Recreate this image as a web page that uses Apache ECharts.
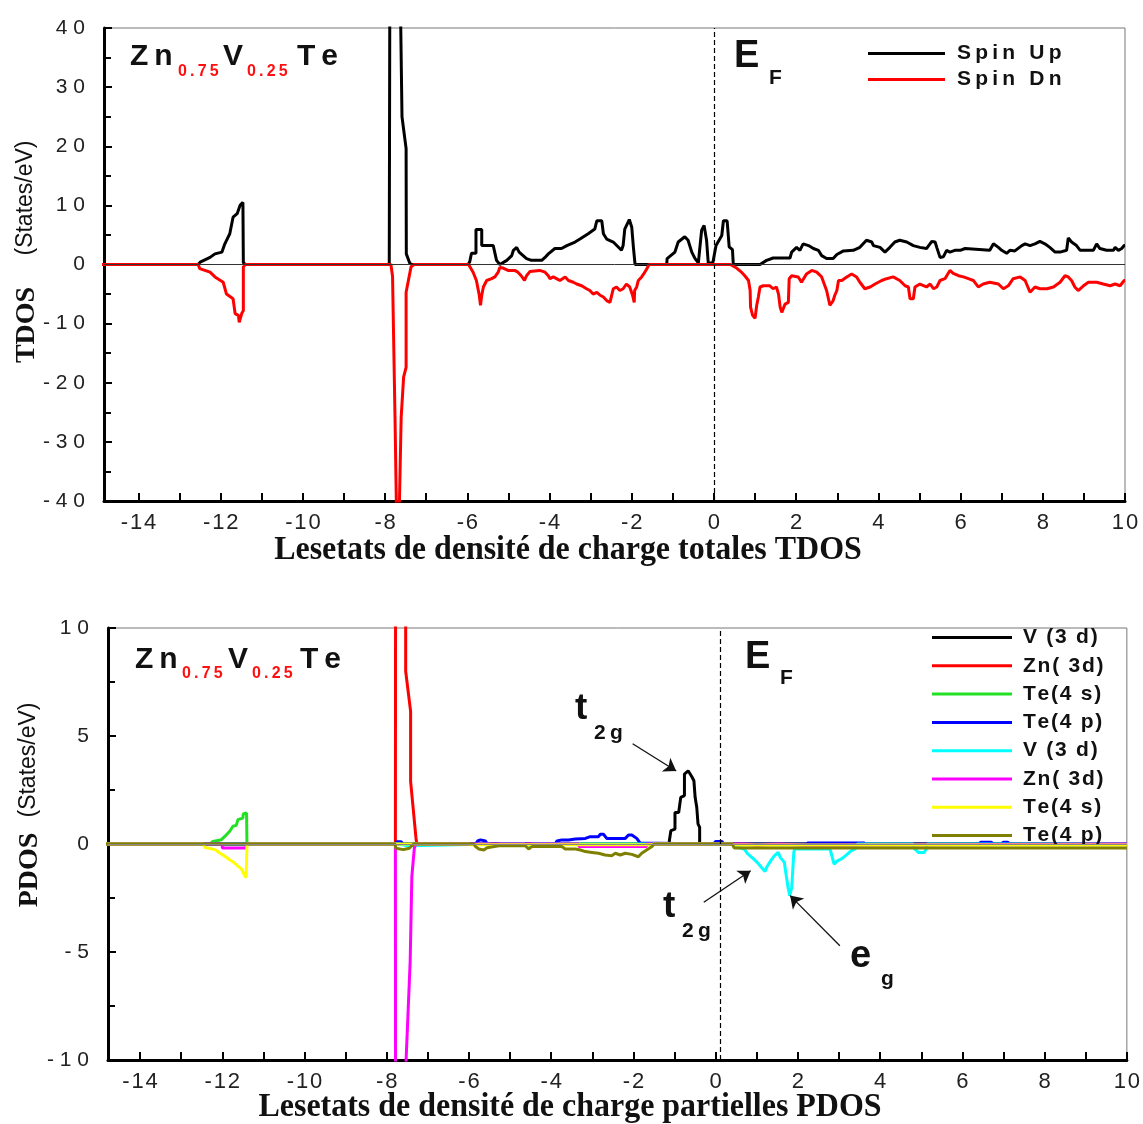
<!DOCTYPE html>
<html>
<head>
<meta charset="utf-8">
<script src="https://cdn.jsdelivr.net/npm/echarts@6/dist/echarts.min.js"></script>
<style>
  html, body { margin: 0; padding: 0; background: #fff; }
  #chart { width: 1143px; height: 1124px; }
</style>
</head>
<body>
<div id="chart"></div>
<script>
// ---- Axis ticks -------------------------------------------------------
const energyTicks = [-14,-13,-12,-11,-10,-9,-8,-7,-6,-5,-4,-3,-2,-1,0,1,2,3,4,5,6,7,8,9,10];
const energyLabels = [-14,-12,-10,-8,-6,-4,-2,0,2,4,6,8,10];

// ---- Total DOS (States/eV) : [energy eV, DOS] ---------------------------
const spinUp = [
  [-15,0],[-12.55,0],[-12.5,0.4],[-12.26,1.2],[-12.14,1.8],[-11.97,2.1],[-11.9,3.5],[-11.78,5.2],[-11.7,8],[-11.6,8.6],[-11.53,10],[-11.46,10.5],[-11.45,0.3],[-11.4,0],
  [-7.9,0],[-7.885,50],[-7.645,50],[-7.62,40],[-7.59,25],[-7.49,19.6],[-7.485,1.8],[-7.40,0.2],[-7.35,0],
  [-5.98,0],[-5.94,0.5],[-5.9,1.9],[-5.79,1.9],[-5.79,5.9],[-5.65,5.9],[-5.65,3.2],[-5.37,3.2],[-5.29,0.7],[-5.21,0],[-5.17,0.3],[-5.04,0.7],[-4.92,1.5],[-4.88,2.4],[-4.80,2.9],[-4.74,2.1],[-4.56,1.0],[-4.44,0.7],[-4.19,0.7],[-4.11,1.2],[-4.03,1.8],[-3.87,2.7],[-3.71,2.7],[-3.58,3.2],[-3.38,3.8],[-3.26,4.3],[-3.06,5.2],[-2.90,6.0],[-2.85,7.4],[-2.73,7.4],[-2.69,5.2],[-2.61,4.3],[-2.45,3.8],[-2.25,2.4],[-2.21,3.2],[-2.17,6.0],[-2.06,7.6],[-2.0,6.3],[-1.96,2.9],[-1.92,0],
  [-1.15,0],[-1.14,1.0],[-0.95,2.1],[-0.87,3.8],[-0.71,4.7],[-0.63,4.1],[-0.54,2.1],[-0.46,1.0],[-0.38,0.3],[-0.30,5.8],[-0.24,6.6],[-0.18,4.1],[-0.14,0.3],[-0.03,0.2],[0.05,3.2],[0.19,4.9],[0.23,7.4],[0.32,7.4],[0.37,3.0],[0.45,2.5],[0.47,0],
  [1.12,0],[1.28,0.7],[1.44,1.1],[1.85,1.1],[1.89,2.1],[2.01,2.9],[2.09,2.4],[2.17,3.5],[2.30,3.2],[2.42,2.7],[2.54,2.4],[2.62,1.5],[2.74,1.0],[2.90,1.0],[2.99,1.7],[3.15,2.3],[3.39,2.4],[3.55,2.9],[3.71,4.1],[3.84,3.8],[3.88,3.2],[4.04,2.9],[4.16,2.1],[4.28,2.9],[4.40,3.8],[4.52,4.1],[4.69,3.8],[4.85,3.2],[5.01,2.9],[5.17,2.7],[5.30,3.9],[5.38,3.8],[5.42,2.9],[5.50,1.2],[5.58,1.3],[5.66,2.4],[5.74,2.1],[5.86,2.4],[5.99,2.4],[6.11,2.7],[6.15,2.4],[6.71,2.4],[6.80,3.5],[6.92,2.9],[7.00,2.4],[7.12,1.9],[7.20,2.4],[7.32,2.3],[7.49,3.2],[7.57,3.5],[7.69,3.2],[7.81,3.5],[7.93,3.9],[8.05,3.5],[8.17,2.9],[8.30,2.1],[8.42,2.1],[8.58,2.4],[8.62,4.5],[8.70,3.8],[8.82,3.2],[8.91,2.4],[9.23,2.4],[9.31,3.5],[9.39,2.7],[9.55,2.4],[9.72,2.4],[9.76,2.9],[9.84,2.4],[9.92,2.7],[9.98,3.2],[10,3.2]
];
const spinDn = [
  [-15,0],[-12.55,0],[-12.51,-0.7],[-12.26,-1.3],[-12.14,-2.1],[-11.94,-3.0],[-11.86,-5.0],[-11.70,-5.8],[-11.65,-8.3],[-11.57,-8.6],[-11.55,-9.8],[-11.49,-8.3],[-11.45,-7.8],[-11.45,-0.4],[-11.4,0],
  [-7.86,0],[-7.82,-2],[-7.76,-25.8],[-7.73,-39.4],[-7.70,-52],[-7.67,-52],[-7.65,-39.4],[-7.61,-25.8],[-7.55,-19],[-7.49,-17.4],[-7.49,-4.7],[-7.37,-0.4],[-7.3,0],
  [-5.97,0],[-5.94,-0.3],[-5.86,-1.3],[-5.78,-2.7],[-5.71,-5.2],[-5.68,-6.9],[-5.65,-5.2],[-5.61,-3.8],[-5.53,-2.7],[-5.41,-2.4],[-5.33,-2.1],[-5.25,-1.3],[-5.21,-0.5],[-5.13,-0.6],[-5.01,-1.0],[-4.85,-1.0],[-4.77,-1.3],[-4.69,-1.9],[-4.61,-2.7],[-4.56,-1.9],[-4.48,-1.2],[-4.24,-1.0],[-4.11,-1.3],[-4.03,-1.9],[-3.99,-2.4],[-3.91,-2.1],[-3.83,-2.4],[-3.75,-2.7],[-3.62,-2.1],[-3.54,-2.7],[-3.42,-3.0],[-3.34,-3.3],[-3.22,-3.6],[-3.10,-4.1],[-3.02,-4.4],[-2.94,-5.0],[-2.85,-4.7],[-2.77,-5.2],[-2.69,-5.5],[-2.61,-6.1],[-2.53,-6.4],[-2.45,-4.1],[-2.37,-3.8],[-2.29,-4.4],[-2.21,-4.1],[-2.13,-3.3],[-2.05,-3.8],[-1.98,-5.2],[-1.94,-6.4],[-1.93,-4.4],[-1.88,-3.8],[-1.84,-2.7],[-1.76,-2.1],[-1.71,-1.6],[-1.64,-0.8],[-1.58,0],
  [0.40,0],[0.43,-0.1],[0.55,-0.6],[0.67,-1.3],[0.75,-1.9],[0.84,-2.7],[0.88,-4.4],[0.89,-7.2],[0.94,-8.6],[1.0,-9.1],[1.04,-6.9],[1.08,-5.5],[1.12,-3.8],[1.2,-3.6],[1.36,-3.6],[1.44,-4.1],[1.52,-3.8],[1.57,-5.0],[1.61,-7.2],[1.65,-8.1],[1.73,-6.7],[1.81,-6.4],[1.83,-2.4],[1.89,-1.9],[2.05,-2.1],[2.13,-3.0],[2.25,-1.6],[2.38,-1.0],[2.50,-1.3],[2.62,-2.1],[2.74,-4.4],[2.82,-6.9],[2.90,-6.1],[2.94,-5.2],[2.99,-4.4],[3.03,-2.7],[3.11,-2.7],[3.23,-2.1],[3.35,-1.6],[3.47,-2.1],[3.55,-3.0],[3.67,-4.1],[3.80,-3.8],[3.92,-3.3],[4.08,-2.7],[4.20,-2.4],[4.36,-2.1],[4.52,-2.7],[4.65,-3.6],[4.73,-3.8],[4.77,-5.8],[4.85,-5.8],[4.89,-3.8],[5.01,-3.3],[5.17,-3.8],[5.26,-3.3],[5.34,-4.1],[5.42,-3.8],[5.50,-2.7],[5.62,-2.4],[5.74,-1.0],[5.82,-1.5],[5.95,-1.9],[6.07,-2.1],[6.19,-2.4],[6.31,-2.7],[6.43,-3.8],[6.55,-3.3],[6.71,-3.0],[6.92,-3.3],[7.04,-4.1],[7.16,-3.6],[7.28,-2.4],[7.45,-2.1],[7.57,-2.7],[7.69,-4.7],[7.81,-3.8],[7.93,-4.1],[8.10,-4.1],[8.26,-3.8],[8.42,-3.0],[8.54,-1.9],[8.62,-2.1],[8.70,-2.7],[8.78,-3.8],[8.86,-4.4],[8.99,-3.6],[9.11,-3.0],[9.31,-3.0],[9.47,-3.3],[9.64,-3.6],[9.76,-3.3],[9.88,-3.6],[9.98,-2.7],[10,-2.7]
];

// ---- Partial DOS (States/eV), spin up (positive) -----------------------
const v3dUp = [[-15,0],[-1.14,0],[-1.13,0.1],[-1.09,0.62],[-0.99,0.69],[-0.99,1.46],[-0.90,1.46],[-0.85,2.16],[-0.76,2.24],[-0.76,3.24],[-0.67,3.39],[-0.62,3.24],[-0.57,3.08],[-0.53,2.93],[-0.50,2.16],[-0.46,1.69],[-0.43,0.93],[-0.39,0.77],[-0.39,0],[10,0]];
const zn3dUp = [[-15,0],[-7.79,0],[-7.785,14],[-7.54,14],[-7.54,8.0],[-7.42,6.14],[-7.42,2.9],[-7.29,0.28],[-7.27,0],[10,0]];
const te4sUp = [[-15,0],[-12.3,0],[-12.23,0.12],[-12.02,0.2],[-11.94,0.35],[-11.82,0.59],[-11.74,0.82],[-11.66,0.86],[-11.62,1.13],[-11.50,1.2],[-11.49,1.39],[-11.41,1.44],[-11.40,0],[10,0]];
const te4pUp = [[-15,0],[-7.8,0],[-7.75,0.1],[-7.65,0.1],[-7.6,0],[-5.84,0],[-5.79,0.14],[-5.72,0.19],[-5.6,0.14],[-5.55,0],[-3.9,0],[-3.86,0.14],[-3.74,0.19],[-3.58,0.19],[-3.41,0.23],[-3.17,0.26],[-3.05,0.34],[-2.85,0.34],[-2.81,0.45],[-2.73,0.45],[-2.65,0.26],[-2.20,0.26],[-2.12,0.42],[-2.04,0.42],[-1.92,0.26],[-1.84,0.05],[-1.8,0],[-0.05,0],[0.0,0.12],[0.15,0.12],[0.2,0],[2.2,0],[2.25,0.05],[3.6,0.05],[3.65,0],[6.4,0],[6.45,0.08],[6.7,0.08],[6.75,0],[6.95,0],[7.0,0.08],[7.1,0.08],[7.15,0],[10,0]];

// ---- Partial DOS (States/eV), spin down (negative) ---------------------
const v3dDn = [[-15,0],[-7.7,0],[-7.68,-0.08],[-7.5,-0.08],[-7.48,0],[-5.5,0],[-5.45,-0.06],[-5.3,-0.06],[-5.25,0],[-4.65,0],[-4.6,-0.06],[-4.5,-0.06],[-4.45,0],[0.40,0],[0.45,-0.08],[0.55,-0.16],[0.69,-0.23],[0.78,-0.46],[0.92,-0.69],[1.01,-0.85],[1.11,-1.08],[1.20,-1.27],[1.24,-1.08],[1.34,-0.77],[1.43,-0.54],[1.52,-0.39],[1.57,-0.62],[1.67,-0.85],[1.71,-1.39],[1.76,-2.01],[1.80,-2.39],[1.85,-2.01],[1.90,-0.39],[1.92,-0.23],[2.78,-0.23],[2.88,-0.93],[2.97,-0.77],[3.06,-0.69],[3.16,-0.54],[3.30,-0.31],[3.39,-0.23],[3.45,0],[4.8,0],[4.84,-0.23],[4.93,-0.39],[5.07,-0.39],[5.12,-0.23],[5.15,0],[10,0]];
const zn3dDn = [[-15,0],[-12.0,0],[-12.0,-0.19],[-11.42,-0.19],[-11.42,0],[-7.79,0],[-7.785,-14],[-7.56,-14],[-7.53,-10],[-7.43,-5.4],[-7.39,-1.5],[-7.33,-0.2],[-7.3,0],[-3.33,0],[-3.33,-0.12],[-1.68,-0.12],[-1.68,0],[0.7,0],[0.7,-0.06],[1.0,-0.06],[1.0,0],[1.5,0],[1.5,-0.06],[2.2,-0.06],[2.2,0],[10,0]];
const te4sDn = [[-15,0],[-12.45,0],[-12.43,-0.15],[-12.18,-0.26],[-12.06,-0.42],[-11.94,-0.57],[-11.82,-0.73],[-11.70,-0.88],[-11.62,-1.03],[-11.54,-1.14],[-11.46,-1.45],[-11.42,-1.55],[-11.40,0],[-6.0,0],[-5.95,-0.04],[-1.55,-0.04],[-1.5,0],[0.4,0],[0.45,-0.05],[10,-0.05]];
const te4pDn = [[-15,0],[-7.8,0],[-7.78,-0.2],[-7.6,-0.26],[-7.45,-0.2],[-7.35,0],[-5.88,0],[-5.84,-0.12],[-5.76,-0.23],[-5.64,-0.28],[-5.56,-0.17],[-5.27,-0.08],[-4.63,-0.08],[-4.55,-0.23],[-4.47,-0.12],[-3.74,-0.12],[-3.66,-0.23],[-3.41,-0.23],[-3.29,-0.28],[-3.17,-0.35],[-3.01,-0.39],[-2.85,-0.43],[-2.69,-0.51],[-2.53,-0.54],[-2.44,-0.43],[-2.32,-0.51],[-2.2,-0.43],[-2.04,-0.48],[-1.88,-0.59],[-1.80,-0.43],[-1.68,-0.28],[-1.55,-0.12],[-1.5,0],[0.4,0],[0.45,-0.18],[10,-0.18]];

// ---- Styling helpers ---------------------------------------------------
const SANS = "'Liberation Sans', Arial, sans-serif";
const SERIF = "'Liberation Serif', 'Times New Roman', serif";
const spaced = s => String(s).split('').join('\u2009');
const hair = s => String(s).split('').join('\u200A');
const wide = s => String(s).split('').join(' ');

function xAxisFor(gridIndex, min) {
  return {
    gridIndex, type: 'value', min, max: 10,
    axisLine: { onZero: false, lineStyle: { color: '#000', width: 3 } },
    axisTick: { inside: true, length: 8, lineStyle: { color: '#000', width: 2 }, customValues: energyTicks },
    axisLabel: { customValues: energyLabels, formatter: v => hair(v), fontFamily: SANS, fontSize: 22, color: '#222', margin: 11 },
    splitLine: { show: false }
  };
}
function yAxisFor(gridIndex, min, max, interval) {
  return {
    gridIndex, type: 'value', min, max, interval,
    axisLine: { show: true, onZero: false, lineStyle: { color: '#000', width: 3 } },
    axisTick: { inside: true, length: 8, lineStyle: { color: '#000', width: 2 } },
    minorTick: { show: true, splitNumber: 2, length: 7, lineStyle: { color: '#000', width: 2 } },
    axisLabel: { formatter: v => wide(v), fontFamily: SANS, fontSize: 21, color: '#222', margin: 19 },
    splitLine: { show: false }
  };
}
function curve(name, data, color, xi, extra) {
  return Object.assign({
    name, type: 'line', data, xAxisIndex: xi, yAxisIndex: xi,
    showSymbol: false, symbol: 'none', clip: true, animation: false, silent: true,
    lineStyle: { color, width: 3 }, itemStyle: { color }
  }, extra || {});
}
const arrow = (from, to) => [{ coord: from }, { coord: to }];

const chart = echarts.init(document.getElementById('chart'), null, { renderer: 'canvas' });

const option = {
  backgroundColor: '#fff',
  animation: false,
  grid: [
    { left: 104, top: 28, width: 1021, height: 473, show: true, borderColor: '#777', borderWidth: 1 },
    { left: 108, top: 628, width: 1022, height: 432, show: true, borderColor: '#777', borderWidth: 1 }
  ],
  xAxis: [xAxisFor(0, -14.84), xAxisFor(1, -14.78)],
  yAxis: [yAxisFor(0, -40, 40, 10), yAxisFor(1, -10, 10, 5)],
  legend: [
    {
      data: ['Spin Up', 'Spin Dn'], orient: 'vertical', left: 868, top: 43, padding: 0,
      icon: 'rect', itemWidth: 77, itemHeight: 3, itemGap: 5, selectedMode: false,
      formatter: n => spaced(n),
      textStyle: { fontFamily: SANS, fontWeight: 'bold', fontSize: 21, color: '#111', padding: [0, 0, 0, 7] }
    },
    {
      data: ['V (3 d)|up', 'Zn( 3d)|up', 'Te(4 s)|up', 'Te(4 p)|up', 'V (3 d)|dn', 'Zn( 3d)|dn', 'Te(4 s)|dn', 'Te(4 p)|dn'],
      orient: 'vertical', left: 932, top: 627, padding: 0,
      icon: 'rect', itemWidth: 80, itemHeight: 3, itemGap: 7.3, selectedMode: false,
      formatter: n => hair(n.split('|')[0]),
      textStyle: { fontFamily: SANS, fontWeight: 'bold', fontSize: 21, color: '#111', padding: [0, 0, 0, 6] }
    }
  ],
  series: [
    curve('Spin Up', spinUp, '#000', 0, {
      markLine: {
        silent: true, symbol: 'none', label: { show: false }, animation: false,
        data: [
          { xAxis: 0, lineStyle: { type: [5, 3], color: '#000', width: 1.2 } },
          { yAxis: 0, lineStyle: { type: 'solid', color: '#333', width: 1 } }
        ]
      }
    }),
    curve('Spin Dn', spinDn, '#ff0000', 0),

    curve('V (3 d)|up', v3dUp, '#000', 1, {
      markLine: {
        silent: true, symbol: 'none', label: { show: false }, animation: false,
        data: [
          { xAxis: 0.11, lineStyle: { type: [5, 3], color: '#000', width: 1.2 } },
          { yAxis: 0, lineStyle: { type: 'solid', color: '#888', width: 1 } }
        ]
      }
    }),
    curve('Zn( 3d)|up', zn3dUp, '#ff0000', 1),
    curve('Te(4 s)|up', te4sUp, '#22e022', 1),
    curve('Te(4 p)|up', te4pUp, '#0000ff', 1),
    curve('V (3 d)|dn', v3dDn, '#00ffff', 1, {
      markLine: {
        silent: true, symbol: ['none', 'arrow'], symbolSize: 12, label: { show: false }, animation: false,
        lineStyle: { type: 'solid', color: '#111', width: 1.3 },
        itemStyle: { color: '#111' },
        emphasis: { disabled: true },
        data: [
          arrow([-2.02, 4.64], [-0.96, 3.38]),
          arrow([-0.29, -2.70], [0.85, -1.24]),
          arrow([3.02, -4.71], [1.81, -2.39])
        ]
      }
    }),
    curve('Zn( 3d)|dn', zn3dDn, '#ff00ff', 1),
    curve('Te(4 s)|dn', te4sDn, '#ffff00', 1),
    curve('Te(4 p)|dn', te4pDn, '#808000', 1)
  ],
  graphic: []
};

// Compound labels, Fermi level tags, orbital labels and axis titles
const T = (text, x, y, size, fill) => ({
  type: 'text', x, y, silent: true,
  style: { text, font: `bold ${size}px ${SANS}`, fill: fill || '#111', align: 'left', verticalAlign: 'middle' }
});

function formula(yMain, ySub, xs) {
  return [
    T(spaced('Zn'), xs[0], yMain, 30),
    T(spaced('0.75'), xs[1], ySub, 16, '#ff1010'),
    T('V', xs[2], yMain, 30),
    T(spaced('0.25'), xs[3], ySub, 16, '#ff1010'),
    T(spaced('Te'), xs[4], yMain, 30)
  ];
}

option.graphic = [].concat(
  formula(57, 72, [130, 178, 223, 247, 297]),
  formula(660, 674, [135, 182, 228, 252, 300]),
  [
    T('E', 734, 57, 38),
    T('F', 769, 78, 21),
    T('E', 745, 658, 38),
    T('F', 780, 678, 21),
    T('t', 575, 709, 37),
    T(spaced('2g'), 594, 733, 21),
    T('t', 663, 907, 37),
    T(spaced('2g'), 682, 931, 21),
    T('e', 850, 957, 38),
    T('g', 881, 979, 21),
    // vertical axis titles
    { type: 'text', x: 27, y: 325, rotation: Math.PI / 2, silent: true,
      style: { text: 'TDOS', font: `bold 28px ${SERIF}`, fill: '#111', align: 'center', verticalAlign: 'middle' } },
    { type: 'text', x: 26, y: 198, rotation: Math.PI / 2, silent: true,
      style: { text: '(States/eV)', font: `23px ${SANS}`, fill: '#111', align: 'center', verticalAlign: 'middle' } },
    { type: 'text', x: 30, y: 870, rotation: Math.PI / 2, silent: true,
      style: { text: 'PDOS', font: `bold 28px ${SERIF}`, fill: '#111', align: 'center', verticalAlign: 'middle' } },
    { type: 'text', x: 29, y: 760, rotation: Math.PI / 2, silent: true,
      style: { text: '(States/eV)', font: `23px ${SANS}`, fill: '#111', align: 'center', verticalAlign: 'middle' } },
    // energy axis titles
    { type: 'text', x: 568, y: 550, scaleX: 0.94, silent: true,
      style: { text: 'Lesetats de densité de charge totales TDOS', font: `bold 34px ${SERIF}`, fill: '#111', align: 'center', verticalAlign: 'middle' } },
    { type: 'text', x: 570, y: 1107, scaleX: 0.94, silent: true,
      style: { text: 'Lesetats de densité de charge partielles PDOS', font: `bold 34px ${SERIF}`, fill: '#111', align: 'center', verticalAlign: 'middle' } }
  ]
);

chart.setOption(option);
</script>
</body>
</html>
